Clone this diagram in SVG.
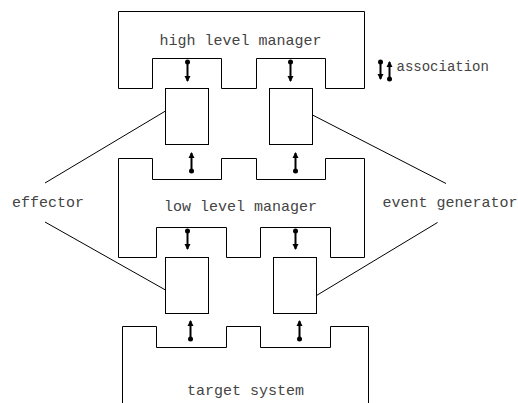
<svg xmlns="http://www.w3.org/2000/svg" width="518" height="403" viewBox="0 0 518 403">
<style>
.s{fill:none;stroke:#000;stroke-width:1}
.t{font-family:"Liberation Mono","DejaVu Sans Mono",monospace;font-size:15px;fill:#444}
.a{stroke:#000;stroke-width:2;fill:none}
</style>
<defs>
<marker id="ah" markerWidth="7" markerHeight="7" refX="5" refY="3.5" orient="auto" markerUnits="userSpaceOnUse">
<path d="M0,0.5 L6,3.5 L0,6.5 Z" fill="#000"/>
</marker>
<marker id="dot" markerWidth="6" markerHeight="6" refX="3" refY="3" orient="auto" markerUnits="userSpaceOnUse">
<circle cx="3" cy="3" r="2.5" fill="#000"/>
</marker>
</defs>
<rect width="518" height="403" fill="#fff"/>
<g id="high-level-manager">
<path class="s" d="M118.5,11.5 H364.5 V88.5 H325.5 V58.5 H256.5 V88.5 H221.5 V58.5 H152.5 V88.5 H118.5 Z"/>
<text class="t" x="240.5" y="45" text-anchor="middle">high level manager</text>
</g>
<g id="effector-upper"><rect class="s" x="165.5" y="88.5" width="43" height="56"/></g>
<g id="event-generator-upper"><rect class="s" x="269.5" y="88.5" width="43" height="56"/></g>
<g id="low-level-manager">
<path class="s" d="M118.5,257.5 V158.5 H152.5 V179.5 H221.5 V158.5 H256.5 V179.5 H325.5 V158.5 H364.5 V257.5 H330.5 V227.5 H260.5 V257.5 H226.5 V227.5 H156.5 V257.5 Z"/>
<text class="t" x="240.5" y="211" text-anchor="middle">low level manager</text>
</g>
<g id="effector-lower"><rect class="s" x="165.5" y="257.5" width="43" height="56"/></g>
<g id="event-generator-lower"><rect class="s" x="273.5" y="257.5" width="43" height="56"/></g>
<g id="target-system">
<path class="s" d="M122.5,403 V326.5 H156.5 V347.5 H226.5 V326.5 H260.5 V347.5 H330.5 V326.5 H368.5 V403"/>
<text class="t" x="245.5" y="395" text-anchor="middle">target system</text>
</g>
<g id="effector-label"><text class="t" x="12" y="207">effector</text></g>
<g id="event-generator-label"><text class="t" x="382.5" y="207">event generator</text></g>
<g id="legend">
<line class="a" x1="380.5" y1="62" x2="380.5" y2="79" marker-start="url(#dot)" marker-end="url(#ah)"/>
<line class="a" x1="389.5" y1="79" x2="389.5" y2="62" marker-start="url(#dot)" marker-end="url(#ah)"/>
<text class="t" x="396.5" y="71" style="font-size:14px">association</text>
</g>
<g id="connectors">
<line class="s" x1="45" y1="183" x2="165.5" y2="111"/>
<line class="s" x1="45" y1="222" x2="165.5" y2="290"/>
<line class="s" x1="312.5" y1="115" x2="446" y2="183.5"/>
<line class="s" x1="316.5" y1="295.5" x2="437.5" y2="222.5"/>
<line class="a" x1="187.5" y1="62" x2="187.5" y2="81" marker-start="url(#dot)" marker-end="url(#ah)"/>
<line class="a" x1="290.5" y1="62" x2="290.5" y2="81" marker-start="url(#dot)" marker-end="url(#ah)"/>
<line class="a" x1="191.5" y1="171" x2="191.5" y2="153" marker-start="url(#dot)" marker-end="url(#ah)"/>
<line class="a" x1="295.5" y1="171" x2="295.5" y2="153" marker-start="url(#dot)" marker-end="url(#ah)"/>
<line class="a" x1="187.5" y1="231" x2="187.5" y2="249" marker-start="url(#dot)" marker-end="url(#ah)"/>
<line class="a" x1="295.5" y1="231" x2="295.5" y2="249" marker-start="url(#dot)" marker-end="url(#ah)"/>
<line class="a" x1="190.5" y1="339" x2="190.5" y2="321" marker-start="url(#dot)" marker-end="url(#ah)"/>
<line class="a" x1="299.5" y1="339" x2="299.5" y2="321" marker-start="url(#dot)" marker-end="url(#ah)"/>
</g>
</svg>
